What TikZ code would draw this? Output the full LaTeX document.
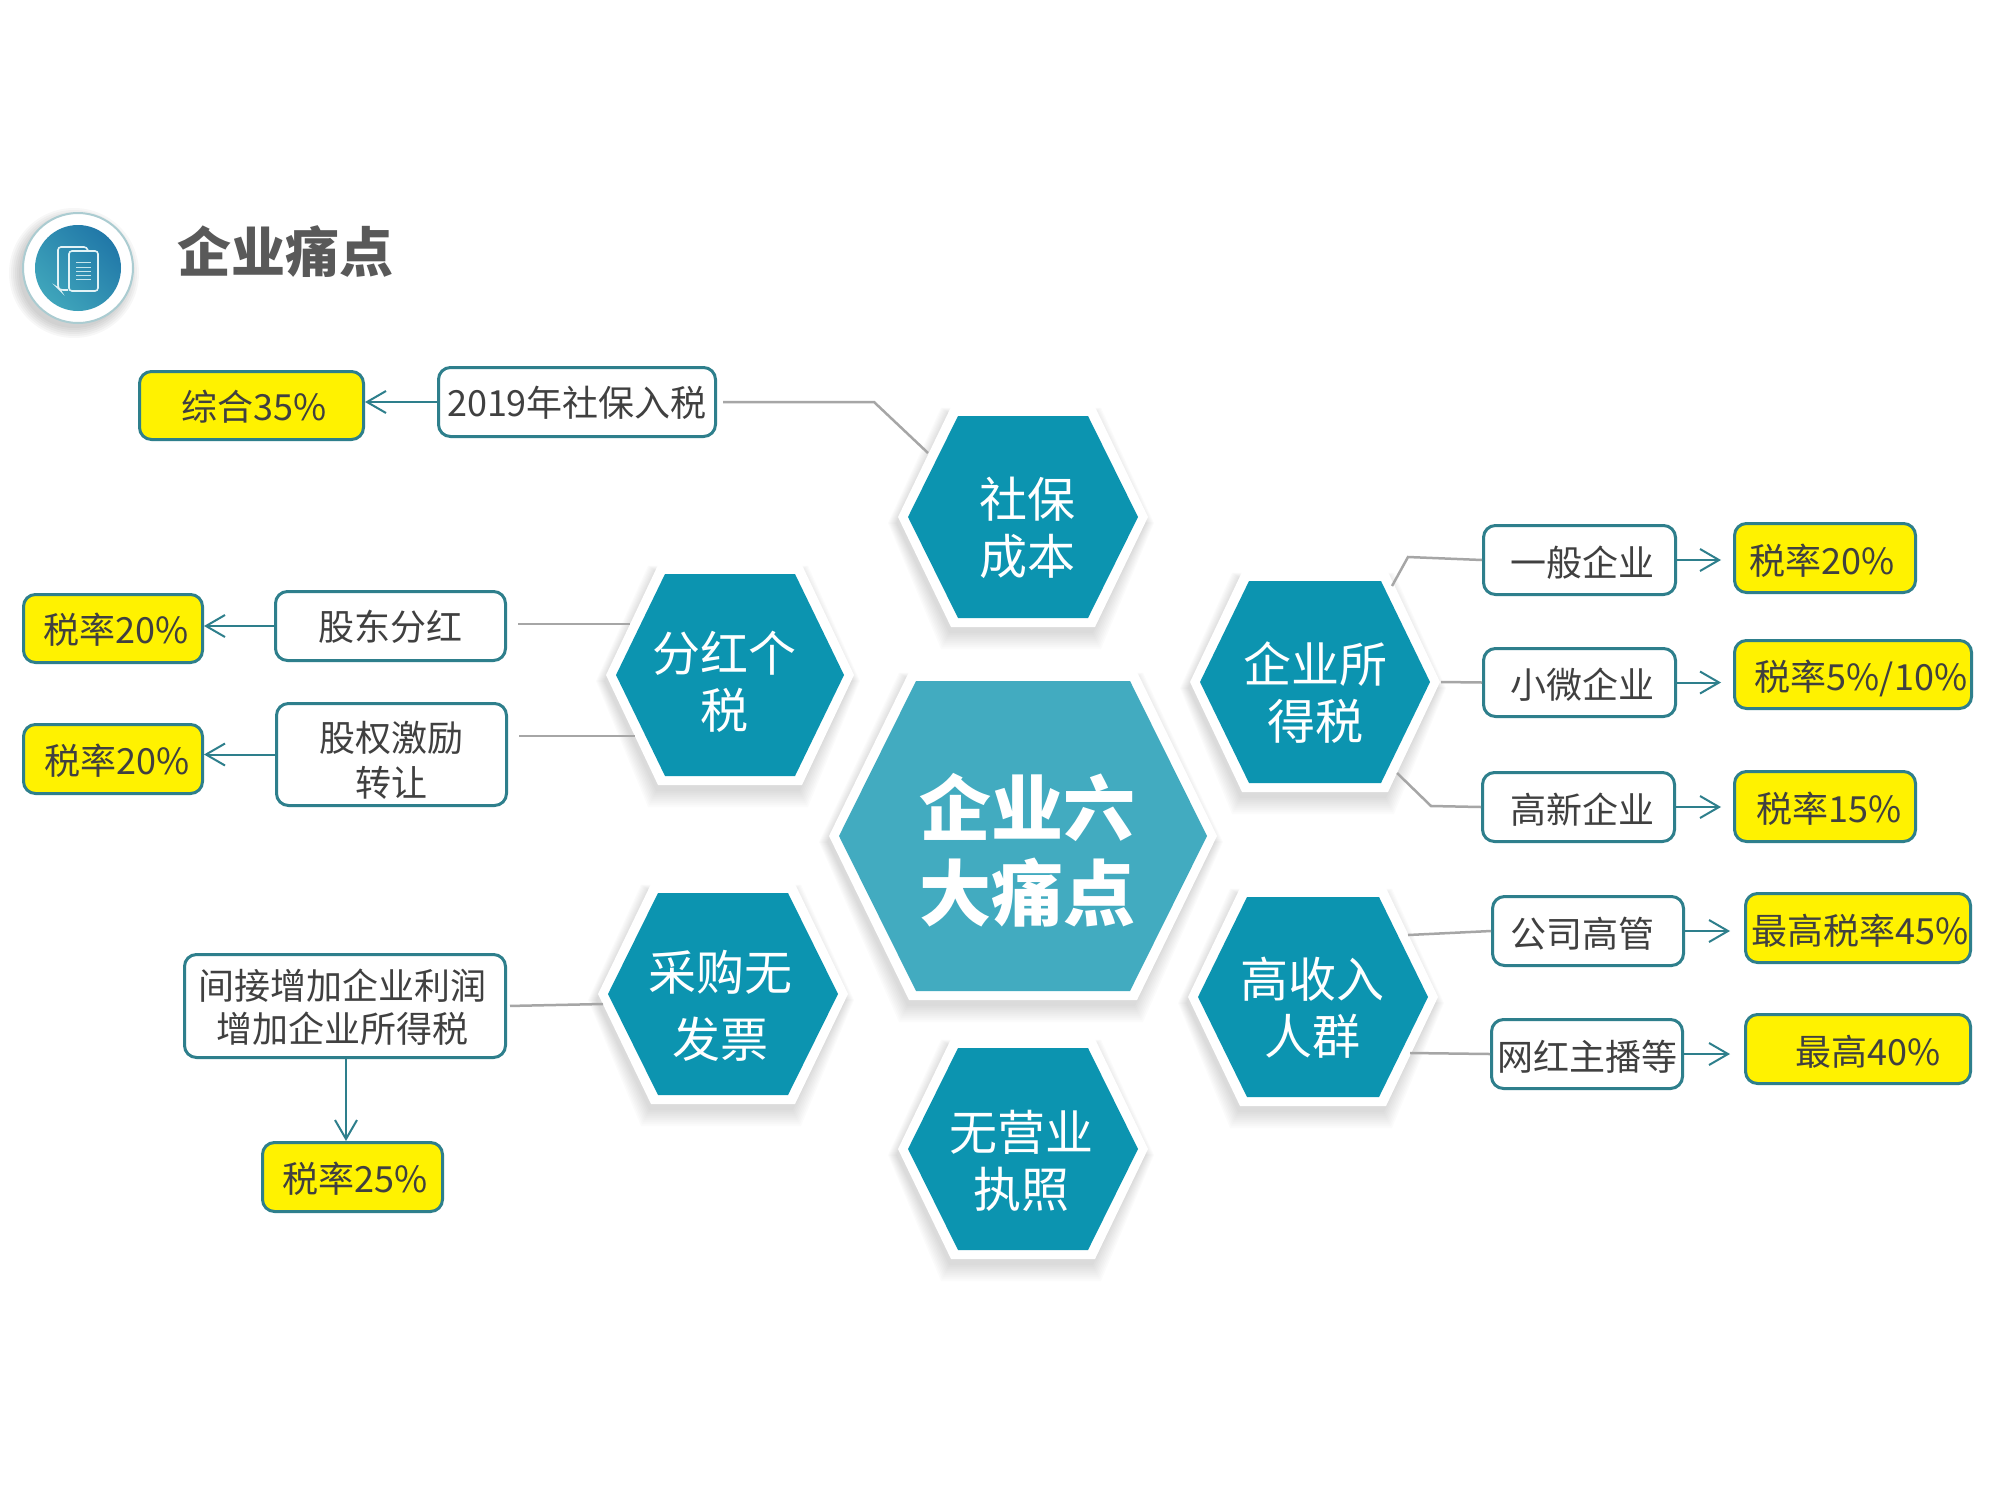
\documentclass[tikz,border=0pt]{standalone}
\usepackage{fontspec}
\setmainfont{Noto Sans CJK SC}
\usepackage{xcolor}
\usetikzlibrary{arrows.meta}
\definecolor{hexteal}{HTML}{0C94B0}
\definecolor{hexcore}{HTML}{42ABC0}
\definecolor{boxline}{HTML}{2E7F8C}
\definecolor{greyline}{HTML}{A6A6A6}
\definecolor{inktext}{HTML}{404040}
\definecolor{iconA}{HTML}{2178A8}
\definecolor{iconB}{HTML}{3FA5BB}
\tikzset{
  boxsize/.style 2 args={minimum width=(#1-1)*0.5pt,minimum height=(#2-1)*0.5pt},
  linebox/.style={draw=boxline,line width=1.5pt,fill=white,rounded corners=6pt,inner sep=0pt,
    text=inktext,align=center,font=\fontsize{18}{21.5}\selectfont},
  whitebox/.style={linebox,text height=18pt,text depth=2pt},
  yellowbox/.style={whitebox,fill=yellow},
  hexlabel/.style={text=white,align=center,inner sep=0pt,font=\fontsize{24}{28.5}\selectfont},
  greyconn/.style={draw=greyline,line width=1.25pt},
  tealconn/.style={draw=boxline,line width=1pt,->}
}
% cx, cy, half width, half width of the flat side, half height, colour
\newcommand{\hexcell}[6]{
  \foreach \d in {0,2,...,16}
    \fill[black,opacity=.014] (#1-2-#3-10-\d/2,#2+6) -- (#1-2-#4-7-\d/2,#2+6-#5-9-\d/3) -- (#1-2+#4+7+\d/2,#2+6-#5-9-\d/3)
      -- (#1-2+#3+10+\d/2,#2+6) -- (#1-2+#4+7+\d/2,#2+6+#5+9+\d) -- (#1-2-#4-7-\d/2,#2+6+#5+9+\d) -- cycle;
  \fill[white] (#1-#3-10,#2) -- (#1-#4-7,#2-#5-9) -- (#1+#4+7,#2-#5-9)
    -- (#1+#3+10,#2) -- (#1+#4+7,#2+#5+9) -- (#1-#4-7,#2+#5+9) -- cycle;
  \fill[#6] (#1-#3,#2) -- (#1-#4,#2-#5) -- (#1+#4,#2-#5)
    -- (#1+#3,#2) -- (#1+#4,#2+#5) -- (#1-#4,#2+#5) -- cycle;
}
\begin{document}
\begin{tikzpicture}[x=0.5pt,y=-0.5pt,>={Straight Barb[length=9.5pt,width=11pt]}]
\useasboundingbox (0,0) rectangle (2000,1499);
\fill[white] (0,0) rectangle (2000,1499);

% icon and title
\foreach \d in {0,2,...,10}
  \fill[black,opacity=.03] (74,273) circle ({55+\d});
\fill[white] (78,268) circle (55);
\draw[draw=white!60!boxline,line width=1pt] (78,268) circle (55);
\shade[left color=iconA,right color=iconB,shading angle=-45] (78,268) circle (43);
\draw[white!85!hexcore,line width=0.8pt,rounded corners=1.5pt] (68,290) -- (60,290) -- (58,288) -- (58,247) -- (87,247) -- (88,251);
\draw[white!85!hexcore,line width=0.8pt,rounded corners=1.5pt] (69,251) rectangle (98,291);
\foreach \ly in {262,267,271,275,279}
  \draw[white!70!hexcore,line width=0.5pt] (76,\ly) -- (91,\ly);
\node[text=black!65,inner sep=0pt,font=\fontsize{27}{30}\selectfont\bfseries] (title) at (285,252) {企业痛点};

% hexagons
\hexcell{1023}{517}{115}{65}{101}{hexteal}
\hexcell{730}{675}{114}{65}{101}{hexteal}
\hexcell{1315}{682}{115}{66}{101}{hexteal}
\hexcell{723}{994}{115}{65}{101}{hexteal}
\hexcell{1313}{997}{115}{66}{100}{hexteal}
\hexcell{1023}{1149}{115}{65}{101}{hexteal}
\hexcell{1023}{836}{184}{107}{155}{hexcore}
\node[hexlabel,font=\fontsize{36}{42.5}\selectfont\bfseries] (core) at (1027,850) {企业六\\大痛点};
\node[hexlabel] (shebao) at (1027,528) {社保\\成本};
\node[hexlabel] (fenhong) at (724,682) {分红个\\税};
\node[hexlabel] (suodeshui) at (1315,693) {企业所\\得税};
\node[hexlabel] (caigou) at (720,1006) {采购无\\[5pt]发票};
\node[hexlabel] (gaoshou) at (1312,1008) {高收入\\人群};
\node[hexlabel] (wuying) at (1021,1161) {无营业\\执照};

% boxes
\node[whitebox,boxsize={278}{70},text height=16pt] (shebaoruishui) at (577,402) {2019年社保入税};
\node[yellowbox,boxsize={225}{69},text height=17pt] (zonghe) at (251.5,405.5) {\hspace{3pt}综合35\%};
\node[whitebox,boxsize={231}{70},text height=16.5pt] (gudong) at (390.5,626) {股东分红};
\node[yellowbox,boxsize={180}{69},text height=16.5pt] (rateA) at (113,628.5) {\hspace{3pt}税率20\%};
\node[linebox,boxsize={231}{103},text height=43pt] (guquan) at (391.5,754.5) {股权激励\\[1pt]转让};
\node[yellowbox,boxsize={180}{70},text height=17pt] (rateB) at (113,759) {\hspace{4pt}税率20\%};
\node[linebox,boxsize={322}{104},text height=37.7pt] (jianjie) at (345,1006) {\hspace*{-3pt}间接增加企业利润\\\hspace*{-3pt}增加企业所得税};
\node[yellowbox,boxsize={181}{70},text height=17pt] (rateC) at (352.5,1177) {\hspace{3pt}税率25\%};
\node[whitebox,boxsize={193}{70}] (yiban) at (1579.5,560) {\hspace{3pt}一般企业};
\node[yellowbox,boxsize={182}{70}] (rateD) at (1825,558) {\hspace{-3pt}税率20\%};
\node[whitebox,boxsize={193}{69}] (xiaowei) at (1579.5,682.5) {\hspace{3pt}小微企业};
\node[yellowbox,boxsize={238}{69}] (rateE) at (1853,674.5) {\hspace{8pt}税率5\%/10\%};
\node[whitebox,boxsize={193}{70}] (gaoxin) at (1578.5,807) {\hspace{4pt}高新企业};
\node[yellowbox,boxsize={182}{71}] (rateF) at (1825,806.5) {\hspace{4pt}税率15\%};
\node[whitebox,boxsize={192}{70}] (gaoguan) at (1588,931) {\hspace{-6pt}公司高管};
\node[yellowbox,boxsize={226}{70}] (rateG) at (1858,928) {\hspace{2pt}最高税率45\%};
\node[whitebox,boxsize={192}{70}] (wanghong) at (1587,1054) {网红主播等};
\node[yellowbox,boxsize={226}{70}] (rateH) at (1858,1049) {\hspace{10pt}最高40\%};

% free ends at the hexagons
\coordinate (bendA) at (874,402);
\coordinate (endA) at (928,453);
\coordinate (endB) at (630,624);
\coordinate (endC) at (635,736);
\coordinate (endD) at (603,1004);
\coordinate (bendE) at (1408,557);
\coordinate (endE) at (1392,586);
\coordinate (endF) at (1441,682);
\coordinate (bendG) at (1431,806);
\coordinate (endG) at (1397,773);
\coordinate (endH) at (1408,935);
\coordinate (endI) at (1410,1053);

% grey lines
\draw[greyconn,shorten <=3pt] (shebaoruishui.east) -- (bendA) -- (endA);
\draw[greyconn,shorten <=5.5pt] (gudong.east |- endB) -- (endB);
\draw[greyconn,shorten <=5.5pt] (guquan.east |- endC) -- (endC);
\draw[greyconn,shorten <=1.5pt] (jianjie.east) -- (endD);
\draw[greyconn] (yiban.west) -- (bendE) -- (endE);
\draw[greyconn] (xiaowei.west) -- (endF);
\draw[greyconn] (gaoxin.west) -- (bendG) -- (endG);
\draw[greyconn] (gaoguan.west) -- (endH);
\draw[greyconn] (wanghong.west) -- (endI);

% arrows
\draw[tealconn] (shebaoruishui.west) -- (shebaoruishui.west -| zonghe.east);
\draw[tealconn] (gudong.west) -- (gudong.west -| rateA.east);
\draw[tealconn] (guquan.west) -- (guquan.west -| rateB.east);
\draw[tealconn] (jianjie.south -| 346,0) -- (346,0 |- rateC.north);
\draw[tealconn,shorten >=6pt] (yiban.east) -- (yiban.east -| rateD.west);
\draw[tealconn,shorten >=6pt] (xiaowei.east) -- (xiaowei.east -| rateE.west);
\draw[tealconn,shorten >=6pt] (gaoxin.east) -- (gaoxin.east -| rateF.west);
\draw[tealconn,shorten >=7pt] (gaoguan.east) -- (gaoguan.east -| rateG.west);
\draw[tealconn,shorten >=7pt] (wanghong.east) -- (wanghong.east -| rateH.west);
\end{tikzpicture}
\end{document}
